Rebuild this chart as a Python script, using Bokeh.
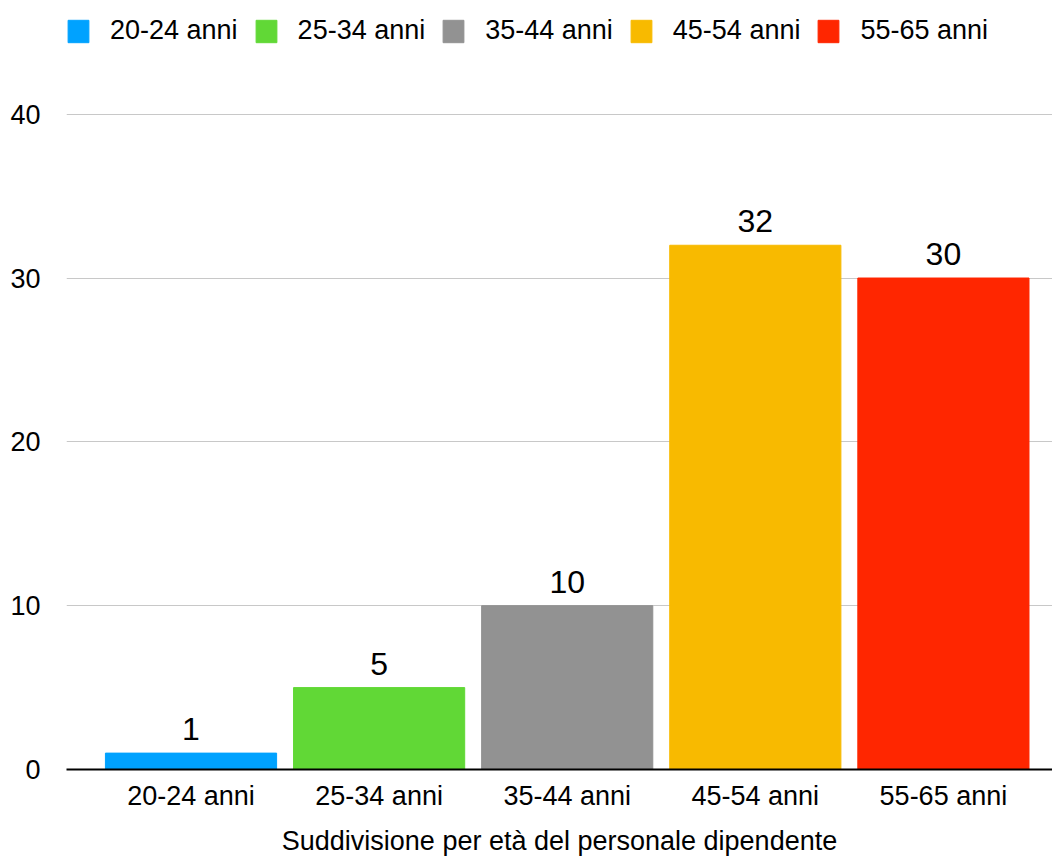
from bokeh.plotting import figure
from bokeh.models import ColumnDataSource, Range1d, FixedTicker, LabelSet, Legend, LegendItem
from bokeh.core.properties import value
from bokeh.embed import file_html
from bokeh.resources import INLINE

categories = ["20-24 anni", "25-34 anni", "35-44 anni", "45-54 anni", "55-65 anni"]
values = [1, 5, 10, 32, 30]
colors = ["#00a2ff", "#61d836", "#929292", "#f8ba00", "#ff2600"]
y_ticks = [0, 10, 20, 30, 40]
x_title = "Suddivisione per età del personale dipendente"

FONT = "Liberation Sans"
xs = list(range(len(categories)))
src = ColumnDataSource(dict(x=xs, top=values, color=colors, cat=categories,
                            lab=[str(v) for v in values]))

p = figure(width=1052, height=858, output_backend="svg", toolbar_location=None,
           x_range=Range1d(-0.662, 4.58), y_range=Range1d(0, 46.94),
           min_border_left=66, min_border_right=0, min_border_top=0, min_border_bottom=86)
p.outline_line_color = None
p.background_fill_color = "white"

r = p.vbar(x="x", top="top", width=0.91, color="color", source=src)

labels = LabelSet(x="x", y="top", text="lab", source=src, text_align="center",
                  text_baseline="alphabetic", y_offset=13, text_font_size="32px",
                  text_font=value(FONT), text_color="black")
p.add_layout(labels)

# axes
p.xaxis.ticker = FixedTicker(ticks=xs)
p.xaxis.major_label_overrides = {i: c for i, c in enumerate(categories)}
p.xaxis.axis_line_color = "black"
p.xaxis.axis_line_width = 2
p.xaxis.major_tick_line_color = None
p.xaxis.minor_tick_line_color = None
p.xaxis.major_label_standoff = 5
p.xaxis.major_label_text_font_size = "27px"
p.xaxis.major_label_text_font = FONT
p.xaxis.major_label_text_color = "black"
p.xaxis.axis_label = x_title
p.xaxis.axis_label_text_font_style = "normal"
p.xaxis.axis_label_text_font_size = "27px"
p.xaxis.axis_label_text_font = FONT
p.xaxis.axis_label_standoff = 12
p.xaxis.axis_label_text_color = "black"

p.yaxis.ticker = FixedTicker(ticks=y_ticks)
p.yaxis.axis_line_color = None
p.yaxis.major_tick_line_color = None
p.yaxis.minor_tick_line_color = None
p.yaxis.major_label_standoff = 20
p.yaxis.major_label_text_font_size = "27px"
p.yaxis.major_label_text_font = FONT
p.yaxis.major_label_text_color = "black"

p.xgrid.grid_line_color = None
p.ygrid.grid_line_color = "#c8c8c8"
p.ygrid.grid_line_width = 1

items = []
for i, c in enumerate(categories):
    g = p.vbar(x=[xs[i]], top=[0], width=0.0, color=colors[i])
    items.append(LegendItem(label=c, renderers=[g]))
legend = Legend(items=items, orientation="horizontal", location=(-1, 723),
                glyph_width=26, glyph_height=28, label_standoff=19, spacing=15,
                padding=0, margin=0, border_line_color=None,
                background_fill_alpha=0, label_text_font_size="27px",
                label_text_font=FONT, label_text_color="black")
p.add_layout(legend, "center")

open("out.html", "w").write(file_html(p, INLINE))
